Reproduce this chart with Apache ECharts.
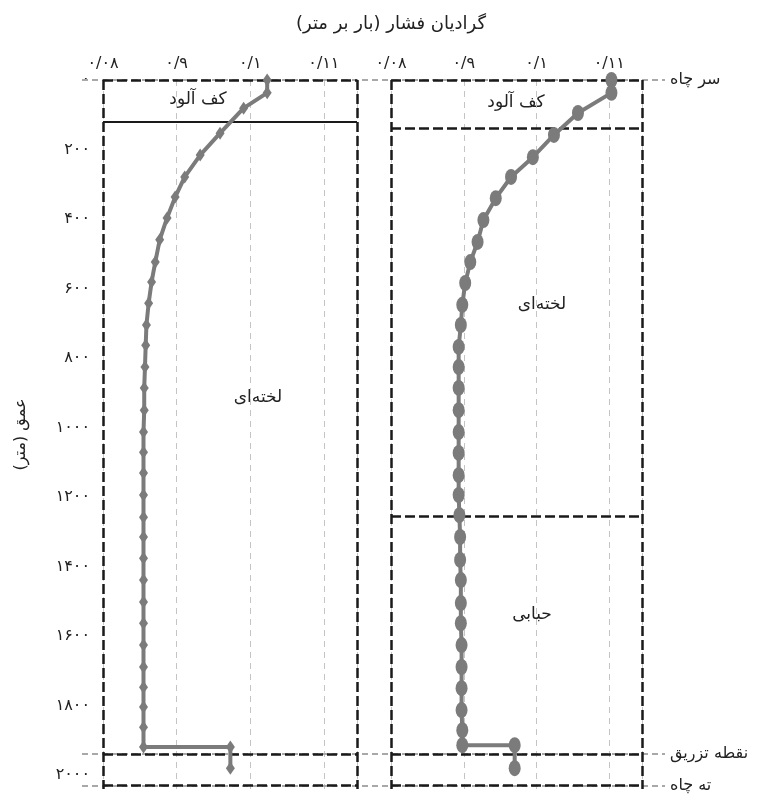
<!DOCTYPE html>
<html>
<head>
<meta charset="utf-8">
<script src="https://cdn.jsdelivr.net/npm/echarts@6/dist/echarts.min.js"></script>
<style>
  html, body { margin: 0; padding: 0; background: #fff; }
  #chart { width: 765px; height: 794px; }
</style>
</head>
<body>
<div id="chart"></div>
<script>
// گرادیان فشار در برابر عمق - دو چاه
var gradTicks = [0.08, 0.09, 0.10, 0.11];
var gradLabels = ['۰/۰۸', '۰/۹', '۰/۱', '۰/۱۱'];
var depthTicks = [0, 200, 400, 600, 800, 1000, 1200, 1400, 1600, 1800, 2000];
var depthLabels = ['۰', '۲۰۰', '۴۰۰', '۶۰۰', '۸۰۰', '۱۰۰۰', '۱۲۰۰', '۱۴۰۰', '۱۶۰۰', '۱۸۰۰', '۲۰۰۰'];

var leftDepth = [0, 37, 81, 153, 216, 279, 337, 397, 460, 524, 581, 642, 705, 763, 826, 886, 950, 1013,
  1071, 1131, 1194, 1258, 1315, 1376, 1439, 1502, 1563, 1626, 1689, 1747, 1804, 1862, 1919, 1919, 1980];
var leftGrad = [0.1023, 0.1023, 0.0991, 0.0959, 0.0932, 0.0911, 0.0898, 0.0887, 0.0877, 0.0871, 0.0866,
  0.0862, 0.0859, 0.0858, 0.0857, 0.0856, 0.0856, 0.0855, 0.0855, 0.0855, 0.0855, 0.0855, 0.0855, 0.0855,
  0.0855, 0.0855, 0.0855, 0.0855, 0.0855, 0.0855, 0.0855, 0.0855, 0.0855, 0.0973, 0.0973];

var rightDepth = [0, 37, 95, 158, 222, 279, 340, 403, 466, 524, 584, 647, 705, 768, 826, 886, 950, 1013,
  1073, 1137, 1194, 1252, 1315, 1381, 1439, 1505, 1563, 1626, 1689, 1750, 1813, 1871, 1914, 1914, 1980];
var rightGrad = [0.1103, 0.1103, 0.1057, 0.1024, 0.0995, 0.0965, 0.0944, 0.0927, 0.0919, 0.0909, 0.0902,
  0.0898, 0.0896, 0.0893, 0.0893, 0.0893, 0.0893, 0.0893, 0.0893, 0.0893, 0.0893, 0.0894, 0.0895, 0.0895,
  0.0896, 0.0896, 0.0896, 0.0897, 0.0897, 0.0897, 0.0897, 0.0898, 0.0898, 0.0970, 0.0970];

var leftFoamBase = 120;
var rightFoamBase = 139;
var rightSlugBase = 1255;
var injectionDepth = 1940;
var bottomDepth = 2030;
var wellLabels = ['سر چاه', 'نقطه تزریق', 'ته چاه'];
var zoneNames = ['کف آلود', 'لخته‌ای', 'حبابی'];

var gradMin = 0.08, gradMax = 0.1145, depthMax = 2040;
var fontFam = 'DejaVu Sans';
var curveColor = '#7b7b7b';

function pairs(xs, ys) {
  var out = [];
  for (var i = 0; i < xs.length; i++) out.push([xs[i], ys[i]]);
  return out;
}
function gradFmt(v) {
  for (var i = 0; i < gradTicks.length; i++) {
    if (Math.abs(v - gradTicks[i]) < 1e-6) return gradLabels[i];
  }
  return '';
}
function depthFmt(v) {
  var i = depthTicks.indexOf(Math.round(v));
  return i < 0 ? '' : depthLabels[i];
}

function makeX(idx, show) {
  return {
    type: 'value', gridIndex: idx, position: 'top', min: gradMin, max: gradMax, interval: 0.01,
    axisLine: { show: false }, axisTick: { show: false },
    axisLabel: { show: show, formatter: gradFmt, showMaxLabel: false, margin: 8,
      fontFamily: fontFam, fontSize: 16, color: '#222' },
    splitLine: { show: show, lineStyle: { color: '#c4c4c4', type: [6, 5], width: 1 } }
  };
}
function makeY(idx, show) {
  return {
    type: 'value', gridIndex: idx, inverse: true, min: 0, max: depthMax, interval: 200,
    axisLine: { show: false }, axisTick: { show: false }, splitLine: { show: false },
    axisLabel: { show: show, formatter: depthFmt, showMaxLabel: false, margin: 13,
      fontFamily: fontFam, fontSize: 16, color: '#222' },
    name: show ? 'عمق (متر)' : '', nameLocation: 'middle', nameGap: 74,
    nameTextStyle: { fontFamily: fontFam, fontSize: 16, color: '#222' }
  };
}

var blackLine = { color: '#1a1a1a', width: 2.5, type: [10, 4] };
function frame(idx, horiz) {
  var data = [{ xAxis: gradMin }, { xAxis: gradMax }];
  horiz.forEach(function (h) {
    var d = { yAxis: h[0] };
    if (h[1]) d.lineStyle = { type: 'solid', width: 2 };
    data.push(d);
  });
  return {
    type: 'line', xAxisIndex: idx, yAxisIndex: idx, data: [], z: 3, silent: true,
    markLine: { symbol: ['none', 'none'], silent: true, animation: false, precision: 6,
      label: { show: false }, lineStyle: blackLine, data: data }
  };
}
function curve(idx, xs, ys, sym, size) {
  return {
    type: 'line', xAxisIndex: idx, yAxisIndex: idx, data: pairs(xs, ys), z: 5,
    symbol: sym, symbolSize: size, showSymbol: true,
    lineStyle: { color: curveColor, width: 4 },
    itemStyle: { color: curveColor }
  };
}

var chart = echarts.init(document.getElementById('chart'));
chart.setOption({
  animation: false,
  backgroundColor: '#fff',
  title: {
    text: 'گرادیان فشار (بار بر متر)', left: 386, top: 10, textAlign: 'center',
    textStyle: { fontFamily: fontFam, fontSize: 18, fontWeight: 'normal', color: '#222' }
  },
  grid: [
    { left: 103, right: 408, top: 80, bottom: 5 },
    { left: 391, right: 123, top: 80, bottom: 5 },
    { left: 82, right: 100, top: 80, bottom: 5 }
  ],
  xAxis: [makeX(0, true), makeX(1, true),
    { type: 'value', gridIndex: 2, min: 0, max: 1, show: false }],
  yAxis: [makeY(0, true), makeY(1, false),
    { type: 'value', gridIndex: 2, inverse: true, min: 0, max: depthMax, show: false }],
  series: [
    {
      type: 'line', xAxisIndex: 2, yAxisIndex: 2, data: [], z: 1, silent: true,
      markLine: {
        symbol: ['none', 'none'], silent: true, animation: false,
        lineStyle: { color: '#a8a8a8', width: 2, type: [6, 4] },
        label: { show: true, position: 'end', distance: 5, fontFamily: fontFam, fontSize: 16, color: '#222',
          formatter: function (p) { return p.name; } },
        data: [
          { yAxis: 0, name: wellLabels[0] },
          { yAxis: injectionDepth, name: wellLabels[1] },
          { yAxis: bottomDepth, name: wellLabels[2] }
        ]
      }
    },
    frame(0, [[0], [leftFoamBase, true], [injectionDepth], [bottomDepth]]),
    frame(1, [[0], [rightFoamBase], [rightSlugBase], [injectionDepth], [bottomDepth]]),
    curve(0, leftGrad, leftDepth, 'diamond', [9, 13]),
    curve(1, rightGrad, rightDepth, 'circle', [12, 16])
  ],
  graphic: [
    { type: 'text', x: 198, y: 100, style: { text: zoneNames[0], font: '17px "DejaVu Sans"', fill: '#222', align: 'center', verticalAlign: 'middle' } },
    { type: 'text', x: 258, y: 398, style: { text: zoneNames[1], font: '17px "DejaVu Sans"', fill: '#222', align: 'center', verticalAlign: 'middle' } },
    { type: 'text', x: 516, y: 103, style: { text: zoneNames[0], font: '17px "DejaVu Sans"', fill: '#222', align: 'center', verticalAlign: 'middle' } },
    { type: 'text', x: 542, y: 305, style: { text: zoneNames[1], font: '17px "DejaVu Sans"', fill: '#222', align: 'center', verticalAlign: 'middle' } },
    { type: 'text', x: 532, y: 615, style: { text: zoneNames[2], font: '17px "DejaVu Sans"', fill: '#222', align: 'center', verticalAlign: 'middle' } }
  ]
});
</script>
</body>
</html>
